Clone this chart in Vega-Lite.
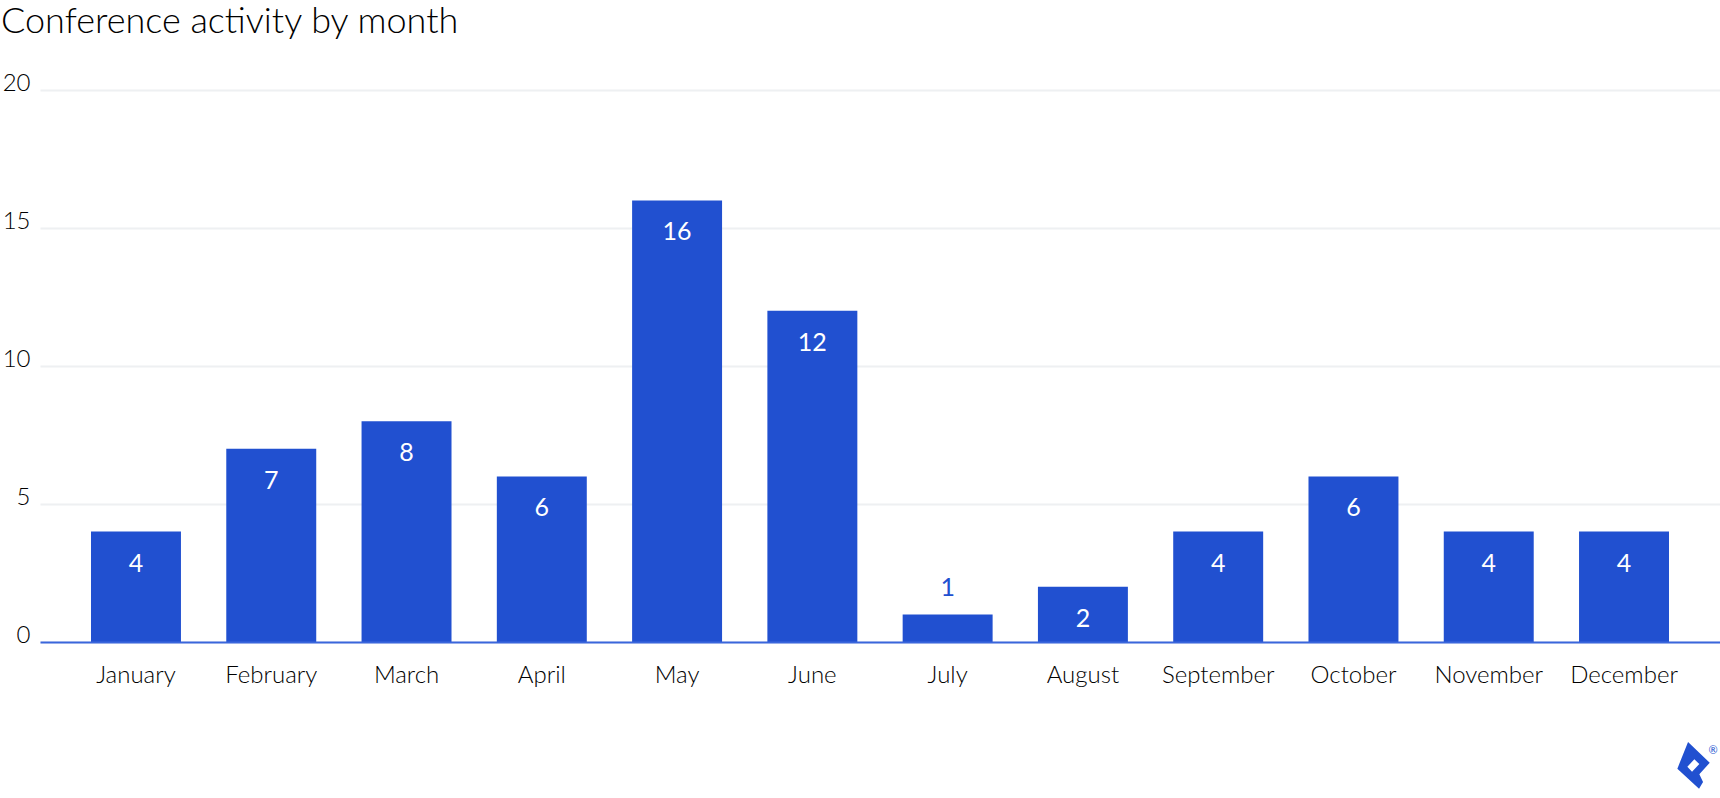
{
  "$schema": "https://vega.github.io/schema/vega-lite/v6.json",
  "description": "Conference activity by month",
  "width": 1680,
  "height": 552,
  "autosize": {"type": "none"},
  "padding": {"left": 40, "top": 90, "right": 0, "bottom": 156},
  "background": "#ffffff",
  "title": {
    "text": "Conference activity by month",
    "anchor": "start",
    "frame": "group",
    "dx": -39,
    "offset": 2,
    "baseline": "alphabetic",
    "font": "Lato",
    "fontSize": 36,
    "fontWeight": 300,
    "color": "#000000"
  },
  "datasets": {
    "months": [
      {"month": "January", "count": 4},
      {"month": "February", "count": 7},
      {"month": "March", "count": 8},
      {"month": "April", "count": 6},
      {"month": "May", "count": 16},
      {"month": "June", "count": 12},
      {"month": "July", "count": 1},
      {"month": "August", "count": 2},
      {"month": "September", "count": 4},
      {"month": "October", "count": 6},
      {"month": "November", "count": 4},
      {"month": "December", "count": 4}
    ],
    "logo": [
      {"month": "December", "count": -4.47}
    ],
    "logoMark": [
      {"month": "December", "count": -3.95, "label": "®"}
    ]
  },
  "encoding": {
    "x": {
      "field": "month",
      "type": "nominal",
      "sort": null,
      "scale": {"paddingInner": 0.335, "paddingOuter": 0.377},
      "axis": {
        "title": null,
        "labelAngle": 0,
        "ticks": false,
        "labelPadding": 40,
        "labelBaseline": "alphabetic",
        "labelFont": "Lato",
        "labelFontSize": 24,
        "labelFontWeight": 300,
        "labelColor": "#000000",
        "labelOverlap": false,
        "domainColor": "#3a66dc",
        "domainWidth": 2,
        "zindex": 1
      }
    },
    "y": {
      "field": "count",
      "type": "quantitative",
      "scale": {"domain": [0, 20], "nice": false},
      "axis": {
        "title": null,
        "values": [0, 5, 10, 15, 20],
        "domain": false,
        "ticks": false,
        "labelPadding": 10,
        "labelBaseline": "alphabetic",
        "labelFont": "Lato",
        "labelFontSize": 24,
        "labelFontWeight": 300,
        "labelColor": "#000000",
        "gridColor": "#eef0f2",
        "gridWidth": 2
      }
    }
  },
  "layer": [
    {
      "data": {"name": "months"},
      "mark": {"type": "bar", "color": "#2150d0"}
    },
    {
      "data": {"name": "months"},
      "transform": [{"filter": "datum.count > 1"}],
      "mark": {"type": "text", "color": "#ffffff", "font": "Lato", "fontSize": 25, "baseline": "middle", "dy": 32},
      "encoding": {"text": {"field": "count", "type": "quantitative"}}
    },
    {
      "data": {"name": "months"},
      "transform": [{"filter": "datum.count <= 1"}],
      "mark": {"type": "text", "color": "#2150d0", "font": "Lato", "fontSize": 25, "baseline": "middle", "dy": -26},
      "encoding": {"text": {"field": "count", "type": "quantitative"}}
    },
    {
      "data": {"name": "logo"},
      "mark": {
        "type": "point",
        "filled": true,
        "clip": false,
        "opacity": 1,
        "color": "#2150d0",
        "size": 4,
        "shape": "M-5,-23.3L16.7,-2.7L6.3,9L10,16.7L6,23.3L-15.7,3.3ZM-5.7,1.3L-1,6.3L6.3,-1.3L1.3,-6Z"
      },
      "encoding": {"xOffset": {"value": 114}}
    },
    {
      "data": {"name": "logoMark"},
      "mark": {"type": "text", "clip": false, "color": "#2150d0", "font": "Lato", "fontSize": 11, "baseline": "middle"},
      "encoding": {
        "xOffset": {"value": 134},
        "text": {"field": "label", "type": "nominal"}
      }
    }
  ],
  "config": {"view": {"stroke": null}}
}
